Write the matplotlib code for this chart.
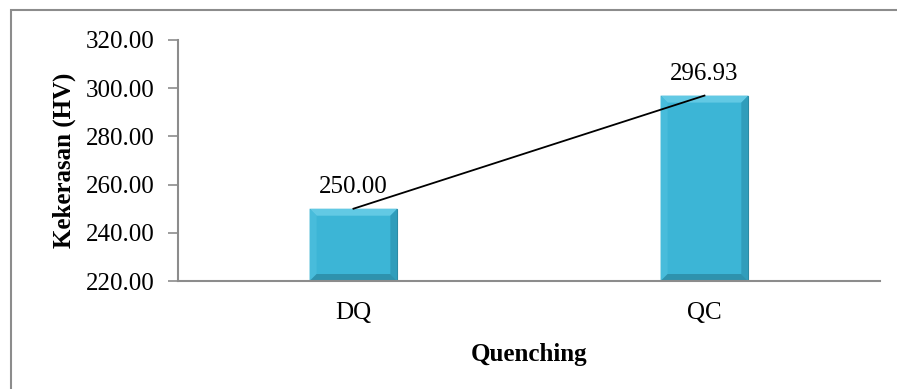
import matplotlib.pyplot as plt
from matplotlib.patches import Rectangle, Polygon

categories = ["DQ", "QC"]
hardness = [250.00, 296.93]
yticks = [220, 240, 260, 280, 300, 320]

plt.rcParams['font.family'] = ['Liberation Serif', 'DejaVu Serif']

fig = plt.figure(figsize=(8.97, 3.89), dpi=100)
ax = fig.add_axes([0.1984, 0.2776, 0.7826, 0.6196])

# outer chart border
fig.patches.append(Rectangle((11 / 897, -0.1), 1.2, 1 - 10 / 389 + 0.1,
                             transform=fig.transFigure, fill=False,
                             edgecolor='#8c8c8c', linewidth=1.5))

x = [0.5, 1.5]
width = 0.25
ymin, ymax = 220, 320
ax.set_xlim(0, 2)
ax.set_ylim(ymin, ymax)

bars = ax.bar(x, hardness, width=width, bottom=0, color='#3cb5d6',
              edgecolor='#2a8199', linewidth=0.8, zorder=2)

# bevel edges, ~7 px wide
bx = 7 * 2 / (0.7826 * 897)
by = 7 * (ymax - ymin) / (0.6196 * 389)
for xi, v in zip(x, hardness):
    l, r, b, t = xi - width / 2, xi + width / 2, ymin, v
    faces = [
        ([(l, t), (r, t), (r - bx, t - by), (l + bx, t - by)], '#62c9e4'),
        ([(l, b), (l, t), (l + bx, t - by), (l + bx, b + by)], '#48bcdb'),
        ([(r, b), (r, t), (r - bx, t - by), (r - bx, b + by)], '#309dbb'),
        ([(l, b), (r, b), (r - bx, b + by), (l + bx, b + by)], '#2e92ad'),
    ]
    for pts, c in faces:
        ax.add_patch(Polygon(pts, closed=True, facecolor=c, edgecolor='none',
                             zorder=2.5, clip_on=True))

ax.plot(x, hardness, color='black', linewidth=1.3, zorder=3)

for xi, v in zip(x, hardness):
    ax.text(xi, v + 4.5, f"{v:.2f}", ha='center', va='bottom', fontsize=18)

ax.set_yticks(yticks)
ax.set_yticklabels([f"{t:.2f}" for t in yticks])
ax.set_xticks(x)
ax.set_xticklabels(categories)
ax.tick_params(axis='y', labelsize=18, length=7, color='#8c8c8c', width=1.2, pad=10)
ax.tick_params(axis='x', labelsize=18, length=0, pad=15)

for s in ['top', 'right']:
    ax.spines[s].set_visible(False)
for s in ['left', 'bottom']:
    ax.spines[s].set_color('#8c8c8c')
    ax.spines[s].set_linewidth(1.5)
    ax.spines[s].set_zorder(4)

ax.set_ylabel("Kekerasan (HV)", fontsize=18, fontweight='bold', labelpad=7)
ax.set_xlabel("Quenching", fontsize=18, fontweight='bold', labelpad=14)

fig.savefig("out.png", dpi=100)
